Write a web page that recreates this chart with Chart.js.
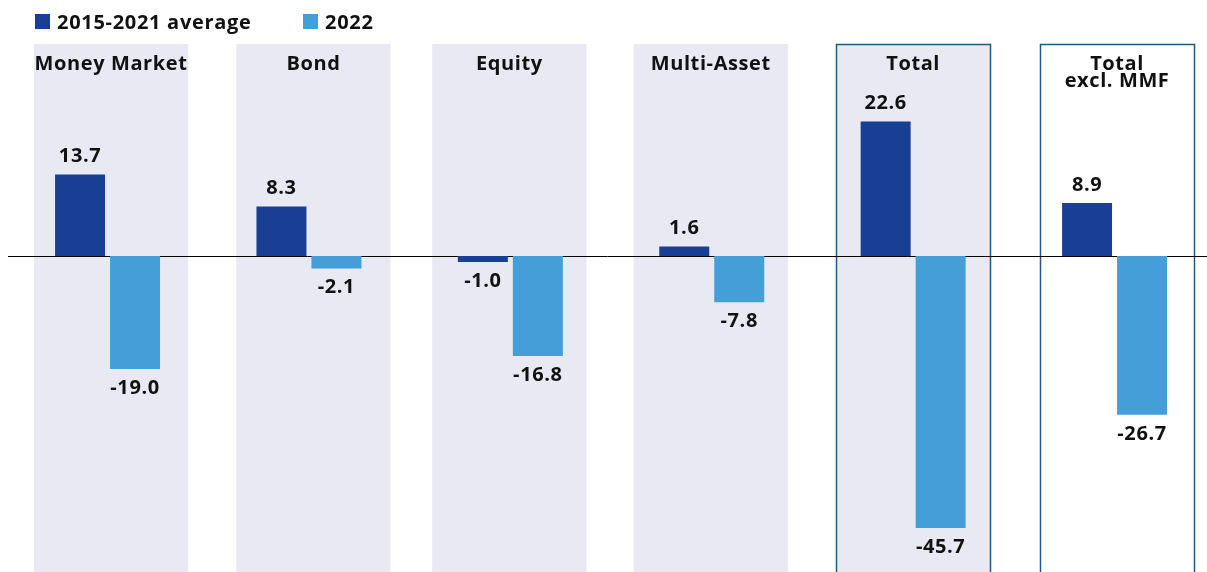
<!DOCTYPE html>
<html>
<head>
<meta charset="utf-8">
<script src="https://cdn.jsdelivr.net/npm/chart.js@4.4.0/dist/chart.umd.min.js"></script>
<style>
  body { margin: 0; background: #fff; font-family: "Open Sans", sans-serif; }
  #wrap { position: relative; width: 1207px; height: 572px; }
  #legend .item { position: absolute; top: 8px; display: flex; align-items: center; font-weight: 700; font-size: 20px; letter-spacing: 0.7px; color: #111; }
  #legend .box { width: 15px; height: 15px; margin-right: 7px; }
  canvas { position: absolute; left: 0; top: 0; }
</style>
</head>
<body>
<div id="wrap">
  <canvas id="chart" width="1207" height="572"></canvas>
  <div id="legend"></div>
</div>
<script>
// categories and series
const categories = ['Money Market', 'Bond', 'Equity', 'Multi-Asset', 'Total', ['Total', 'excl. MMF']];
const avg2015_2021 = [13.7, 8.3, -1.0, 1.6, 22.6, 8.9];
const values2022 = [-19.0, -2.1, -16.8, -7.8, -45.7, -26.7];
const seriesNames = ['2015-2021 average', '2022'];

const COLORS = {
    dark: '#183f94',
    light: '#449fd8',
    panel: '#e8e9f2',
    border: '#1f5a85',
    text: '#111111'
};
const FONT = '"Open Sans", sans-serif';

// panel style per category: grey fill, outlined or both
const panelFill = [true, true, true, true, true, false];
const panelBorder = [false, false, false, false, true, true];
// small nudges (px) of each panel relative to its bar group
const panelShift = [3.5, 4.5, -1, -1, 0, 2.5];

// legend (html)
const legendEl = document.getElementById('legend');
const legendLeft = [35, 303];
[COLORS.dark, COLORS.light].forEach((c, i) => {
    const item = document.createElement('div');
    item.className = 'item';
    item.style.left = legendLeft[i] + 'px';
    item.innerHTML = `<span class="box" style="background:${c}"></span><span>${seriesNames[i]}</span>`;
    legendEl.appendChild(item);
});

const panelsPlugin = {
    id: 'panels',
    beforeDatasetsDraw(chart) {
        const { ctx, scales: { x, y } } = chart;
        const top = 44;
        const bottom = chart.height + 2;
        categories.forEach((cat, i) => {
            const l = x.getPixelForValue(i - 0.383) + panelShift[i];
            const r = x.getPixelForValue(i + 0.383) + panelShift[i];
            ctx.save();
            if (panelFill[i]) {
                ctx.fillStyle = COLORS.panel;
                ctx.fillRect(l, top, r - l, bottom - top);
            }
            if (panelBorder[i]) {
                ctx.strokeStyle = COLORS.border;
                ctx.lineWidth = 1.5;
                ctx.strokeRect(Math.round(l) + 0.5, top + 0.5, Math.round(r - l), bottom - top);
            }
            // category label
            ctx.fillStyle = COLORS.text;
            ctx.font = `700 20px ${FONT}`;
            ctx.letterSpacing = '0.6px';
            ctx.textAlign = 'center';
            ctx.textBaseline = 'middle';
            const lines = Array.isArray(cat) ? cat : [cat];
            lines.forEach((line, j) => {
                ctx.fillText(line, (l + r) / 2, 64 + j * 17);
            });
            ctx.restore();
        });
        // zero line
        const y0 = Math.round(y.getPixelForValue(0)) + 0.5;
        ctx.save();
        ctx.strokeStyle = '#000';
        ctx.lineWidth = 1;
        ctx.beginPath();
        ctx.moveTo(8, y0);
        ctx.lineTo(chart.width, y0);
        ctx.stroke();
        ctx.restore();
    }
};

const valueLabels = {
    id: 'valueLabels',
    afterDatasetsDraw(chart) {
        const { ctx } = chart;
        ctx.save();
        ctx.fillStyle = COLORS.text;
        ctx.font = `700 20px ${FONT}`;
        ctx.letterSpacing = '0.6px';
        ctx.textAlign = 'center';
        ctx.textBaseline = 'middle';
        chart.data.datasets.forEach((ds, di) => {
            const meta = chart.getDatasetMeta(di);
            meta.data.forEach((bar, i) => {
                const v = ds.data[i].y;
                const ty = v >= 0 ? bar.y - 18 : bar.y + 19;
                ctx.fillText(v.toFixed(1), bar.x, ty);
            });
        });
        ctx.restore();
    }
};

new Chart(document.getElementById('chart'), {
    type: 'bar',
    data: {
        datasets: [{
            label: seriesNames[0],
            data: avg2015_2021.map((v, i) => ({ x: i, y: v })),
            backgroundColor: COLORS.dark
        }, {
            label: seriesNames[1],
            data: values2022.map((v, i) => ({ x: i, y: v })),
            backgroundColor: COLORS.light
        }]
    },
    options: {
        responsive: false,
        animation: false,
        categoryPercentage: 0.546,
        barPercentage: 0.909,
        layout: { padding: 0 },
        plugins: {
            legend: { display: false },
            tooltip: { enabled: false }
        },
        scales: {
            x: {
                type: 'linear',
                display: false,
                min: -0.534,
                max: 5.459,
                offset: false,
                // one tick per category so the bar width follows the category spacing
                afterBuildTicks(scale) {
                    scale.ticks = categories.map((c, i) => ({ value: i }));
                }
            },
            y: {
                display: false,
                min: -53.1,
                max: 43.0
            }
        }
    },
    plugins: [panelsPlugin, valueLabels]
});
</script>
</body>
</html>
